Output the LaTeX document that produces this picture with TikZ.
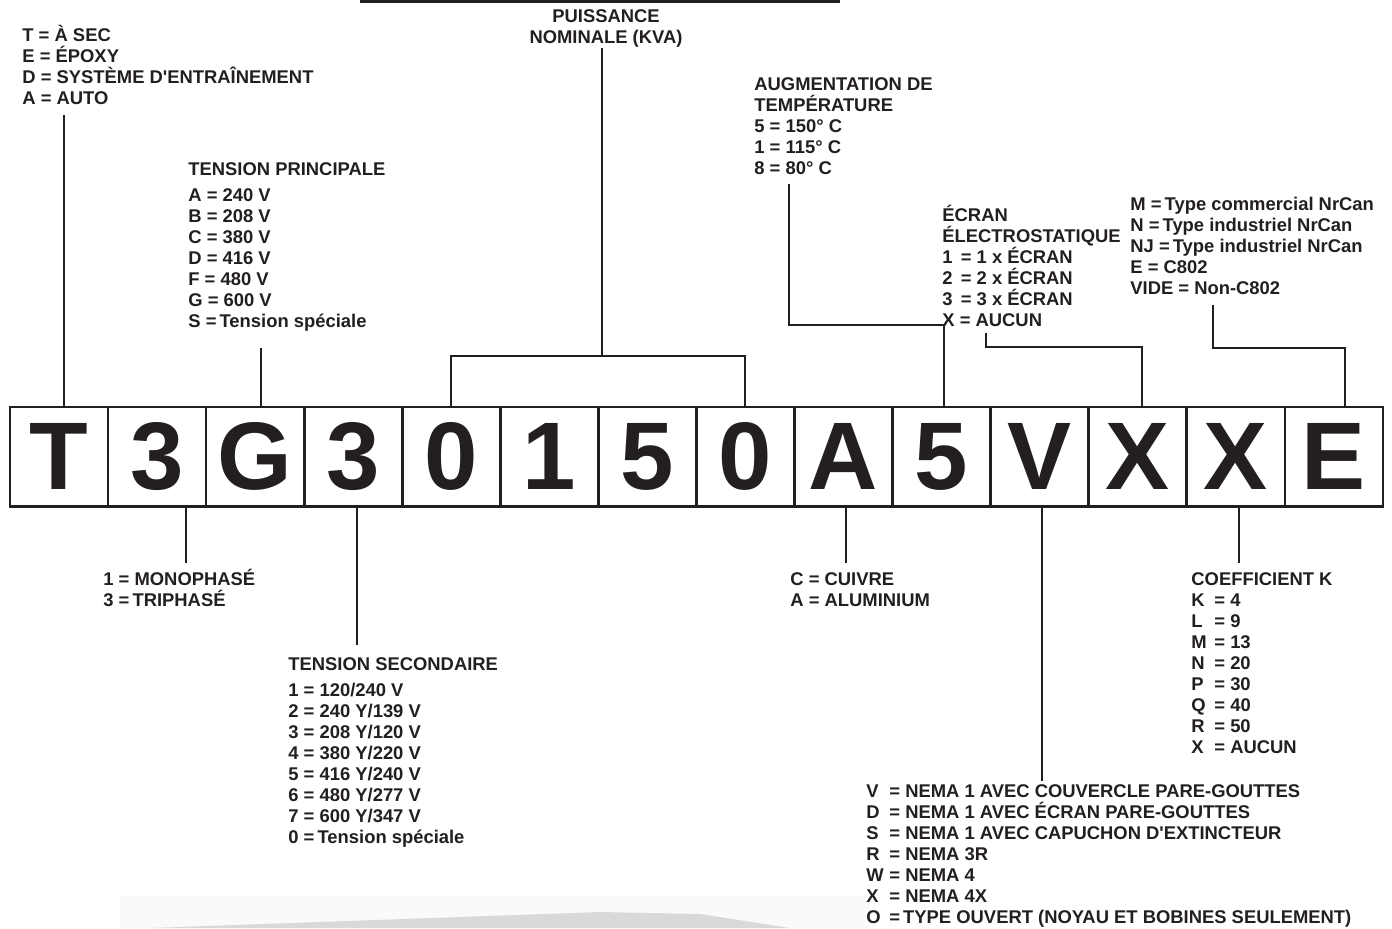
\documentclass[tikz,border=0pt]{standalone}
\usepackage{fontspec}
\setmainfont{Liberation Sans}
\definecolor{ink}{RGB}{35,31,32}
\newcommand\lbfont{\bfseries\fontsize{9.2}{10.5}\selectfont}
\newcommand\bigfont{\bfseries\fontsize{48}{50}\selectfont}
\newcommand\fst{\rule{0pt}{9pt}}
\newcommand\lt[1]{\makebox[11.5pt][l]{#1}}
\newcommand\apo{\textquotesingle}
\begin{document}
\begin{tikzpicture}[x=0.5pt,y=-0.5pt,
  lbl/.style={font=\lbfont, align=left, anchor=north west, inner sep=0pt, text=ink},
  ctrlbl/.style={font=\lbfont, align=center, anchor=north, inner sep=0pt, text=ink},
  digitbox/.style={draw=ink, line width=1.35pt, minimum width=49.035pt, minimum height=49.75pt, inner sep=0pt, font=\bigfont, text=ink},
  conn/.style={draw=ink, line width=1pt}]
\useasboundingbox (0,0) rectangle (1392,928);
\fill[white] (0,0) rectangle (1392,928);
% faint scan smear at the bottom
\fill[gray!4] (120,896) rectangle (870,928);
\fill[gray!30] (150,928) -- (600,912) -- (700,914) -- (790,928) -- cycle;

% top rule
\coordinate (r1) at (360,1.5);
\coordinate (r2) at (840,1.5);
\draw[ink, line width=1.6pt] (r1) -- (r2);

% boxes
\foreach \c [count=\i from 0] in {T,3,G,3,0,1,5,0,A,5,V,X,X,E}
  \node[digitbox] (b\i) at ({59+98.07*\i},456.75) {\c};

% labels
\node[lbl] (tl) at (22,23) {\fst T = À SEC\\E = ÉPOXY\\D = SYSTÈME D\apo ENTRAÎNEMENT\\A = AUTO};
\node[ctrlbl] (pn) at (606,4) {\fst PUISSANCE\\NOMINALE (KVA)};
\node[lbl] (aug) at (754,72) {\fst AUGMENTATION DE\\TEMPÉRATURE\\5 = 150° C\\1 = 115° C\\8 = 80° C};
\node[lbl] (tp) at (188,157) {\fst TENSION PRINCIPALE\\[2.5pt]A = 240 V\\B = 208 V\\C = 380 V\\D = 416 V\\F = 480 V\\G = 600 V\\S =\,Tension spéciale};
\node[lbl] (ecr) at (942,203) {\fst ÉCRAN\\ÉLECTROSTATIQUE\\1 \,= 1 x ÉCRAN\\2 \,= 2 x ÉCRAN\\3 \,= 3 x ÉCRAN\\X = AUCUN};
\node[lbl] (cat) at (1130,192) {\fst M =\,Type commercial NrCan\\N =\,Type industriel NrCan\\NJ =\,Type industriel NrCan\\E = C802\\VIDE = Non-C802};
\node[lbl] (ph) at (103,567) {\fst 1 = MONOPHASÉ\\3 =\,TRIPHASÉ};
\node[lbl] (cu) at (790,567) {\fst C = CUIVRE\\A = ALUMINIUM};
\node[lbl] (coef) at (1191,567) {\fst COEFFICIENT K\\\lt{K}= 4\\\lt{L}= 9\\\lt{M}= 13\\\lt{N}= 20\\\lt{P}= 30\\\lt{Q}= 40\\\lt{R}= 50\\\lt{X}= AUCUN};
\node[lbl] (ts) at (288,652) {\fst TENSION SECONDAIRE\\[2.5pt]1 = 120/240 V\\2 = 240 Y/139 V\\3 = 208 Y/120 V\\4 = 380 Y/220 V\\5 = 416 Y/240 V\\6 = 480 Y/277 V\\7 = 600 Y/347 V\\0 =\,Tension spéciale};
\node[lbl] (nema) at (866,779) {\fst \lt{V}= NEMA 1 AVEC COUVERCLE PARE-GOUTTES\\\lt{D}= NEMA 1 AVEC ÉCRAN PARE-GOUTTES\\\lt{S}= NEMA 1 AVEC CAPUCHON D\apo EXTINCTEUR\\\lt{R}= NEMA 3R\\\lt{W}= NEMA 4\\\lt{X}= NEMA 4X\\\lt{O}=\,TYPE OUVERT (NOYAU ET BOBINES SEULEMENT)};

% connectors above
\coordinate (t1) at (64,115);
\draw[conn] (t1) -- (t1 |- b0.north);
\coordinate (g1) at (261,348);
\draw[conn] (g1) -- (g1 |- b2.north);
\coordinate (p1) at (602,48);
\coordinate (p2) at (602,356);
\draw[conn] (p1) -- (p2);
\draw[conn] (b4.north) -- (b4.north |- p2) -- (b7.north |- p2) -- (b7.north);
\coordinate (a1) at (789,184);
\coordinate (a2) at (944,325);
\draw[conn] (a1) |- (a2) -- (a2 |- b9.north);
\coordinate (e1) at (986,333);
\coordinate (e2) at (1142,347);
\draw[conn] (e1) |- (e2) -- (e2 |- b11.north);
\coordinate (k1) at (1213,305);
\coordinate (k2) at (1345,348);
\draw[conn] (k1) |- (k2) -- (k2 |- b13.north);

% connectors below
\coordinate (m1) at (186,563);
\draw[conn] (m1 |- b1.south) -- (m1);
\coordinate (s1) at (357,645);
\draw[conn] (s1 |- b3.south) -- (s1);
\coordinate (c1) at (846,563);
\draw[conn] (c1 |- b8.south) -- (c1);
\coordinate (v1) at (1042,781);
\draw[conn] (v1 |- b10.south) -- (v1);
\coordinate (q1) at (1239,563);
\draw[conn] (q1 |- b12.south) -- (q1);
\end{tikzpicture}
\end{document}
